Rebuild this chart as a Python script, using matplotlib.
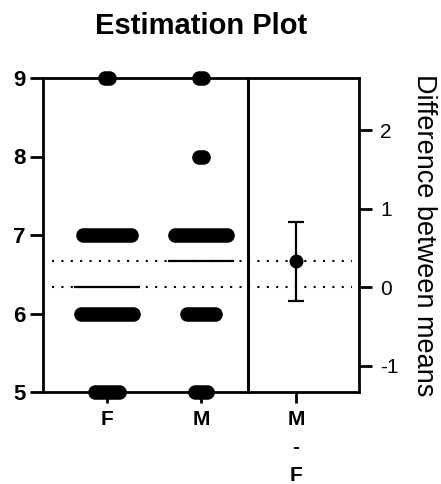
import numpy as np
import matplotlib
matplotlib.use('Agg')
import matplotlib.pyplot as plt

plt.rcParams['font.family'] = ['Liberation Sans', 'DejaVu Sans']
plt.rcParams['axes.unicode_minus'] = False

# data
groups = ['F', 'M']
levels = [9, 8, 7, 6, 5]
f_counts = [2, 0, 13, 14, 7]
m_counts = [2, 2, 14, 8, 4]
diff_label = 'M\n-\nF'
ci_low, ci_high = -0.17, 0.83

right_ticks = [-1, 0, 1, 2]
left_ticks = [5, 6, 7, 8, 9]

fig = plt.figure(figsize=(4.41, 4.84), dpi=100)
W, H = 441, 484

# left panel: 43..248 px, right panel: 248..359 px, y: 78..392 px
ax = fig.add_axes([43 / W, (H - 392) / H, 205 / W, 314 / H])
ax2 = fig.add_axes([248 / W, (H - 392) / H, 111 / W, 314 / H])
ax2.patch.set_visible(False)

lw = 2.0
spread = 0.043
half = 0.34

means = []
for i, counts in enumerate([f_counts, m_counts]):
    vals = []
    for lev, n in zip(levels, counts):
        if n == 0:
            continue
        xs = i + (np.arange(n) - (n - 1) / 2) * spread
        ax.plot(xs, [lev] * n, 'o', ms=9.5, color='black', mec='black',
                clip_on=False, zorder=4)
        vals += [lev] * n
    means.append(np.mean(vals))

for i, m in enumerate(means):
    ax.plot([i - half, i + half], [m, m], color='black', lw=1.6, zorder=5)

dot = (0, (1, 3.5))
for m in means:
    ax.plot([-0.58, 1.5], [m, m], color='black', lw=1.5, ls=dot, zorder=2)

ax.set_xlim(-0.68, 1.5)
ax.set_ylim(5, 9)
ax.set_yticks(left_ticks)
ax.set_yticklabels([str(t) for t in left_ticks], fontsize=16, fontweight='bold')
ax.set_xticks(range(len(groups)))
ax.set_xticklabels(groups, fontsize=15, fontweight='bold')
ax.tick_params(axis='y', length=9.4, width=lw, pad=3)
ax.tick_params(axis='x', length=8, width=lw, pad=5)
for s in ax.spines.values():
    s.set_linewidth(lw)

# right panel: difference between means
diff = means[1] - means[0]
base = means[0]
ax2.set_ylim(5 - base, 9 - base)
ax2.set_xlim(-0.51, 0.67)
for v in [0, diff]:
    ax2.plot([-0.51, 0.6], [v, v], color='black', lw=1.5, ls=dot, zorder=2)
ax2.errorbar([0], [diff], yerr=[[diff - ci_low], [ci_high - diff]], fmt='o',
             color='black', ms=9, elinewidth=1.6, capsize=6, capthick=1.6,
             zorder=5)
ax2.yaxis.tick_right()
ax2.set_yticks(right_ticks)
ax2.set_yticklabels([str(t) for t in right_ticks], fontsize=15)
ax2.set_xticks([0])
ax2.set_xticklabels([diff_label], fontsize=15, fontweight='bold',
                    linespacing=1.6)
ax2.tick_params(axis='y', length=9.4, width=lw, pad=6)
ax2.tick_params(axis='x', length=8, width=lw, pad=5)
for s in ax2.spines.values():
    s.set_linewidth(lw)

fig.text(201 / W, 1 - 26 / H, 'Estimation Plot', ha='center', va='center',
         fontsize=21, fontweight='bold')
fig.text(424 / W, 1 - 235 / H, 'Difference between means', rotation=270,
         ha='center', va='center', fontsize=19.5)

fig.savefig('out.png', dpi=100)
